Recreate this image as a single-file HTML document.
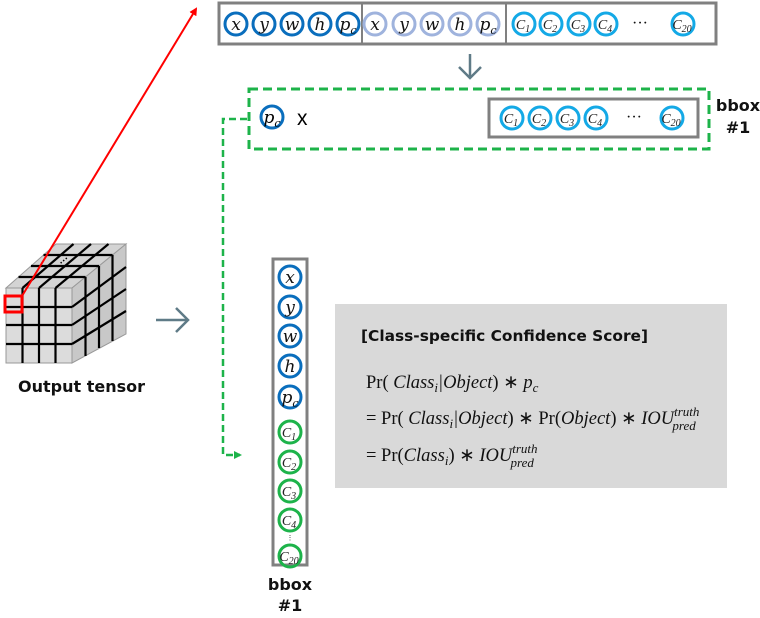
<!DOCTYPE html>
<html><head><meta charset="utf-8"><style>
body{margin:0;background:#fff;width:760px;height:618px;overflow:hidden}
svg{display:block}
.m{font-family:"DejaVu Serif","Liberation Serif",serif;font-style:italic;font-size:17px}
.s{font-family:"Liberation Serif",serif;font-style:italic;font-size:14px}
.t{font-family:"DejaVu Sans","Liberation Sans",sans-serif;font-weight:bold;font-size:16px;fill:#111}
.f{font-family:"Liberation Serif",serif;font-size:18.5px;fill:#111}
</style></head><body>
<svg width="760" height="618" viewBox="0 0 760 618" xmlns="http://www.w3.org/2000/svg">
<defs>
<marker id="ar" markerWidth="8" markerHeight="8" refX="6" refY="4" orient="auto" markerUnits="userSpaceOnUse"><path d="M0,0 L8,4 L0,8 Z" fill="#f00"/></marker>
<marker id="ag" markerWidth="8" markerHeight="8" refX="6" refY="4" orient="auto" markerUnits="userSpaceOnUse"><path d="M0,0 L8,4 L0,8 Z" fill="#1db34a"/></marker>
</defs>
<g stroke="#999" stroke-width="1">
<polygon points="6,288 72,288 126,244 56,244" fill="#d4d4d4"/>
<polygon points="72,288 126,244 126,334 72,363" fill="#c8c8c8"/>
<rect x="6" y="288" width="66" height="75" fill="#dcdcdc"/>
</g>
<g stroke="#000" stroke-width="2.2" fill="none">
<line x1="22.5" y1="288" x2="22.5" y2="363"/><line x1="39" y1="288" x2="39" y2="363"/><line x1="55.5" y1="288" x2="55.5" y2="363"/>
<line x1="6" y1="307" x2="72" y2="307"/><line x1="6" y1="325" x2="72" y2="325"/><line x1="6" y1="344" x2="72" y2="344"/>
<line x1="22.5" y1="288" x2="73.5" y2="244"/><line x1="39" y1="288" x2="91" y2="244"/><line x1="55.5" y1="288" x2="108.5" y2="244"/>
<line x1="18.5" y1="277" x2="85.5" y2="277"/><line x1="31" y1="266" x2="99" y2="266"/><line x1="43.5" y1="255" x2="112.5" y2="255"/>
<line x1="85.5" y1="277" x2="85.5" y2="356"/><line x1="99" y1="266" x2="99" y2="348"/><line x1="112.5" y1="255" x2="112.5" y2="341"/>
<line x1="72" y1="307" x2="126" y2="267"/><line x1="72" y1="325" x2="126" y2="289"/><line x1="72" y1="344" x2="126" y2="311"/>
</g>
<text x="60" y="264" font-size="10" font-weight="bold" transform="rotate(-40 64 262)" font-family="Liberation Sans">···</text>
<rect x="5" y="296" width="17" height="16" fill="none" stroke="#f00" stroke-width="3"/>
<line x1="22" y1="296" x2="196" y2="9" stroke="#f00" stroke-width="2" marker-end="url(#ar)"/>
<text class="t" x="18" y="392">Output tensor</text>
<g stroke="#5f7b87" stroke-width="2.5" fill="none"><line x1="156" y1="320" x2="188" y2="320"/><polyline points="176,308 188,320 176,332"/></g>
<rect x="219" y="3" width="497" height="41" fill="none" stroke="#808080" stroke-width="3"/>
<line x1="362" y1="3" x2="362" y2="44" stroke="#808080" stroke-width="2"/>
<line x1="506" y1="3" x2="506" y2="44" stroke="#808080" stroke-width="2"/>
<g fill="none" stroke-width="3">
<g stroke="#0a6ebd"><circle cx="236" cy="24" r="11"/><circle cx="264" cy="24" r="11"/><circle cx="292" cy="24" r="11"/><circle cx="320" cy="24" r="11"/><circle cx="348" cy="24" r="11"/></g>
<g stroke="#9fb3dd"><circle cx="375" cy="24" r="11"/><circle cx="404" cy="24" r="11"/><circle cx="432" cy="24" r="11"/><circle cx="460" cy="24" r="11"/><circle cx="488" cy="24" r="11"/></g>
<g stroke="#14a9e6"><circle cx="524" cy="24" r="11"/><circle cx="551" cy="24" r="11"/><circle cx="579" cy="24" r="11"/><circle cx="606" cy="24" r="11"/><circle cx="683" cy="24" r="11"/></g>
</g>
<g class="m" text-anchor="middle" fill="#111">
<text x="236" y="30">x</text><text x="264" y="30">y</text><text x="292" y="30">w</text><text x="320" y="30">h</text><text x="348" y="30">p<tspan font-size="11" dy="4">c</tspan></text>
<text x="375" y="30">x</text><text x="404" y="30">y</text><text x="432" y="30">w</text><text x="460" y="30">h</text><text x="488" y="30">p<tspan font-size="11" dy="4">c</tspan></text>
</g>
<g class="s" text-anchor="middle" fill="#222">
<text x="523" y="29">C<tspan font-size="10" dy="3">1</tspan></text><text x="550" y="29">C<tspan font-size="10" dy="3">2</tspan></text><text x="578" y="29">C<tspan font-size="10" dy="3">3</tspan></text><text x="605" y="29">C<tspan font-size="10" dy="3">4</tspan></text><text x="682" y="29">C<tspan font-size="10" dy="3">20</tspan></text>
<text x="640" y="28" style="font-style:normal;font-size:16px" fill="#111">···</text>
</g>
<g stroke="#5f7b87" stroke-width="2.5" fill="none"><line x1="470" y1="54" x2="470" y2="78"/><polyline points="459,67 470,78 481,67"/></g>
<rect x="249" y="89" width="460" height="60" fill="none" stroke="#1db34a" stroke-width="3" stroke-dasharray="9,5"/>
<circle cx="272" cy="117" r="11" fill="none" stroke="#0a6ebd" stroke-width="3"/>
<text class="m" x="272" y="123" text-anchor="middle">p<tspan font-size="11" dy="4">c</tspan></text>
<text x="297" y="125" font-family="Liberation Sans" font-size="21">x</text>
<rect x="489" y="99" width="209" height="38" fill="none" stroke="#808080" stroke-width="3"/>
<g fill="none" stroke="#14a9e6" stroke-width="3"><circle cx="512" cy="118" r="11"/><circle cx="540" cy="118" r="11"/><circle cx="568" cy="118" r="11"/><circle cx="596" cy="118" r="11"/><circle cx="672" cy="118" r="11"/></g>
<g class="s" text-anchor="middle" fill="#222">
<text x="511" y="123">C<tspan font-size="10" dy="3">1</tspan></text><text x="539" y="123">C<tspan font-size="10" dy="3">2</tspan></text><text x="567" y="123">C<tspan font-size="10" dy="3">3</tspan></text><text x="595" y="123">C<tspan font-size="10" dy="3">4</tspan></text><text x="671" y="123">C<tspan font-size="10" dy="3">20</tspan></text>
<text x="634" y="122" style="font-style:normal;font-size:16px" fill="#111">···</text>
</g>
<text class="t" x="738" y="111" text-anchor="middle">bbox</text>
<text class="t" x="738" y="133" text-anchor="middle">#1</text>
<polyline points="247,119 223,119 223,455 240,455" fill="none" stroke="#1db34a" stroke-width="2.5" stroke-dasharray="7,4" marker-end="url(#ag)"/>
<rect x="273" y="259" width="34" height="306" fill="none" stroke="#808080" stroke-width="3"/>
<g fill="none" stroke-width="3">
<g stroke="#0a6ebd"><circle cx="290" cy="277" r="11"/><circle cx="290" cy="307" r="11"/><circle cx="290" cy="336" r="11"/><circle cx="290" cy="366" r="11"/><circle cx="290" cy="397" r="11"/></g>
<g stroke="#1db34a"><circle cx="290" cy="432" r="11"/><circle cx="290" cy="462" r="11"/><circle cx="290" cy="491" r="11"/><circle cx="290" cy="520" r="11"/><circle cx="290" cy="556" r="11"/></g>
</g>
<g class="m" text-anchor="middle" fill="#111">
<text x="290" y="283">x</text><text x="290" y="313">y</text><text x="290" y="342">w</text><text x="290" y="372">h</text><text x="290" y="403">p<tspan font-size="11" dy="4">c</tspan></text>
</g>
<g class="s" text-anchor="middle" fill="#222">
<text x="289" y="437">C<tspan font-size="10" dy="3">1</tspan></text><text x="289" y="467">C<tspan font-size="10" dy="3">2</tspan></text><text x="289" y="496">C<tspan font-size="10" dy="3">3</tspan></text><text x="289" y="525">C<tspan font-size="10" dy="3">4</tspan></text><text x="289" y="561">C<tspan font-size="10" dy="3">20</tspan></text>
<text x="290" y="540" style="font-style:normal;font-size:7px">⋮</text>
</g>
<text class="t" x="290" y="590" text-anchor="middle">bbox</text>
<text class="t" x="290" y="611" text-anchor="middle">#1</text>
<rect x="335" y="304" width="392" height="184" fill="#d9d9d9"/>
<text class="t" x="361" y="341" style="font-size:15.4px">[Class-specific Confidence Score]</text>
<text class="f" x="366" y="388">Pr( <tspan font-style="italic">Class<tspan font-size="13" dy="4">i</tspan><tspan dy="-4">|Object</tspan></tspan>) ∗ <tspan font-style="italic">p<tspan font-size="13" dy="4">c</tspan></tspan></text>
<text class="f" x="366" y="424">= Pr( <tspan font-style="italic">Class<tspan font-size="13" dy="4">i</tspan><tspan dy="-4">|Object</tspan></tspan>) ∗ Pr(<tspan font-style="italic">Object</tspan>) ∗ <tspan font-style="italic">IOU</tspan><tspan font-style="italic" font-size="13" dy="-8">truth</tspan><tspan font-style="italic" font-size="13" dx="-27" dy="14">pred</tspan></text>
<text class="f" x="366" y="461">= Pr(<tspan font-style="italic">Class<tspan font-size="13" dy="4">i</tspan></tspan><tspan dy="-4">) ∗ </tspan><tspan font-style="italic">IOU</tspan><tspan font-style="italic" font-size="13" dy="-8">truth</tspan><tspan font-style="italic" font-size="13" dx="-27" dy="14">pred</tspan></text>
</svg>
</body></html>
